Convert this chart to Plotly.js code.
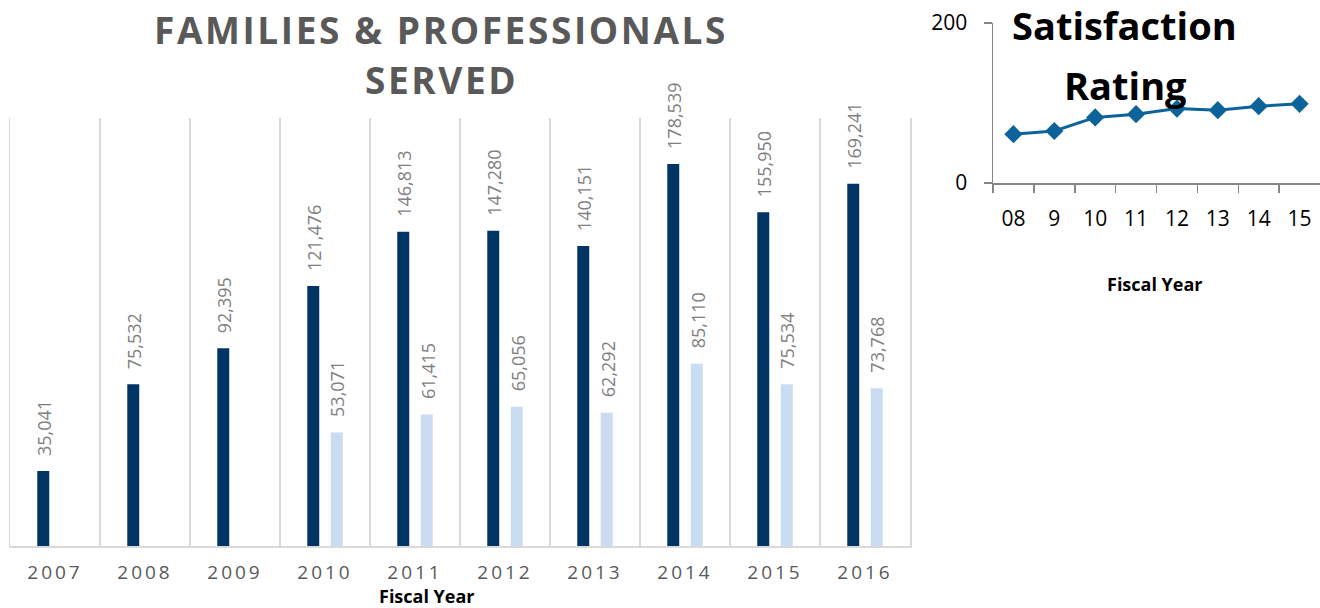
<!DOCTYPE html>
<html>
<head>
<meta charset="utf-8">
<script src="https://cdn.plot.ly/plotly-3.0.1.min.js"></script>
<style>
  html, body { margin: 0; padding: 0; background: #fff; }
  #chart { width: 1320px; height: 608px; }
  .xtick text { letter-spacing: 3px; }
  text[data-unformatted="SERVED"],
  text[data-unformatted="FAMILIES & PROFESSIONALS"],
  text[data-unformatted="FAMILIES &amp; PROFESSIONALS"] { letter-spacing: 2.6px; }
</style>
</head>
<body>
<div id="chart"></div>
<script>
// ---- Data ----
const years = ['2007', '2008', '2009', '2010', '2011', '2012', '2013', '2014', '2015', '2016'];
const families = [35041, 75532, 92395, 121476, 146813, 147280, 140151, 178539, 155950, 169241];
const professionals = [null, null, null, 53071, 61415, 65056, 62292, 85110, 75534, 73768];

const satYears = ['08', '9', '10', '11', '12', '13', '14', '15'];
const satValues = [61, 65, 82, 86, 93, 91, 96, 99];

const mainTitleLines = ['FAMILIES & PROFESSIONALS', 'SERVED'];
const satTitleLines = ['Satisfaction', 'Rating'];
const axisTitle = 'Fiscal Year';

// ---- Styles ----
const DARK = '#003463';
const LIGHT = '#cadcf1';
const LINE = '#0b6399';
const GRID = '#d9d9d9';
const W = 1320, H = 608;
const px = v => v / W;
const py = v => (H - v) / H;

const fmt = v => v.toLocaleString('en-US');

const traces = [
  { type: 'bar', x: years, y: families, marker: { color: DARK }, xaxis: 'x', yaxis: 'y', hoverinfo: 'skip' },
  { type: 'bar', x: years, y: professionals, marker: { color: LIGHT }, xaxis: 'x', yaxis: 'y', hoverinfo: 'skip' },
  { type: 'scatter', mode: 'lines+markers', x: satYears, y: satValues, xaxis: 'x2', yaxis: 'y2',
    line: { color: LINE, width: 3 }, marker: { symbol: 'diamond', size: 14, color: LINE }, hoverinfo: 'skip' }
];

const labelFont = { family: 'Open Sans', size: 18, color: '#7f7f7f' };
const annotations = [];
function addLabels(vals, shift) {
  vals.forEach((v, i) => {
    if (v === null) return;
    annotations.push({
      xref: 'x', yref: 'y', x: i, y: v, text: fmt(v), textangle: -90,
      showarrow: false, xanchor: 'center', yanchor: 'bottom', xshift: shift, yshift: 13, font: labelFont
    });
  });
}
addLabels(families, -11);
addLabels(professionals, 12.5);

const titleFont = { family: 'Open Sans', size: 37, weight: 700, color: '#595959' };
annotations.push({ xref: 'paper', yref: 'paper', x: px(441), y: py(29), text: mainTitleLines[0], showarrow: false,
  xanchor: 'center', yanchor: 'middle', font: titleFont });
annotations.push({ xref: 'paper', yref: 'paper', x: px(441), y: py(80), text: mainTitleLines[1], showarrow: false,
  xanchor: 'center', yanchor: 'middle', font: titleFont });

const satFont = { family: 'Open Sans', size: 38, weight: 700, color: '#000000' };
annotations.push({ xref: 'paper', yref: 'paper', x: px(1124), y: py(25), text: satTitleLines[0], showarrow: false,
  xanchor: 'center', yanchor: 'middle', font: satFont });
annotations.push({ xref: 'paper', yref: 'paper', x: px(1125), y: py(85), text: satTitleLines[1], showarrow: false,
  xanchor: 'center', yanchor: 'middle', font: satFont });

const fyFont = { family: 'Open Sans', size: 18, weight: 700, color: '#000000' };
annotations.push({ xref: 'paper', yref: 'paper', x: px(427), y: py(596), text: axisTitle, showarrow: false,
  xanchor: 'center', yanchor: 'middle', font: fyFont });
annotations.push({ xref: 'paper', yref: 'paper', x: px(1155), y: py(284), text: axisTitle, showarrow: false,
  xanchor: 'center', yanchor: 'middle', font: fyFont });

const layout = {
  width: W, height: H,
  margin: { l: 0, r: 0, t: 0, b: 0 },
  paper_bgcolor: '#ffffff', plot_bgcolor: '#ffffff',
  showlegend: false,
  barmode: 'group', bargap: 0.478, bargroupgap: 0.49,
  xaxis: {
    type: 'category', domain: [px(10), px(910)], anchor: 'y', range: [-0.5, years.length - 0.5],
    tickson: 'boundaries', showgrid: true, gridcolor: GRID, gridwidth: 1.5,
    showline: true, linecolor: GRID, linewidth: 2, ticks: '',
    tickfont: { family: 'Open Sans', size: 19, color: '#595959' }, ticklabelstandoff: 8, tickangle: 0,
    zeroline: false, fixedrange: true
  },
  yaxis: {
    domain: [py(546), py(118)], anchor: 'x', range: [0, 200000],
    showgrid: false, showticklabels: false, zeroline: false,
    showline: true, mirror: true, linecolor: GRID, linewidth: 1.5, ticks: '', fixedrange: true
  },
  xaxis2: {
    type: 'category', domain: [px(993), 1], anchor: 'y2', range: [-0.5, satYears.length - 0.5],
    tickson: 'boundaries', ticks: 'outside', ticklen: 8, tickcolor: '#868686', tickwidth: 1.5,
    showline: true, linecolor: '#868686', linewidth: 1.5, showgrid: false, zeroline: false,
    tickfont: { family: 'Open Sans', size: 21, color: '#000000' }, ticklabelstandoff: 16, fixedrange: true
  },
  yaxis2: {
    domain: [py(183), py(23)], anchor: 'x2', range: [0, 200], tickvals: [0, 200], ticktext: ['0', '200'],
    ticks: 'outside', ticklen: 8, tickcolor: '#868686', tickwidth: 1.5,
    showline: true, linecolor: '#868686', linewidth: 1.5, showgrid: false, zeroline: false,
    tickfont: { family: 'Open Sans', size: 21, color: '#000000' }, ticklabelstandoff: 12, fixedrange: true
  },
  annotations: annotations
};

Plotly.newPlot('chart', traces, layout, { staticPlot: true, displayModeBar: false });
</script>
</body>
</html>
